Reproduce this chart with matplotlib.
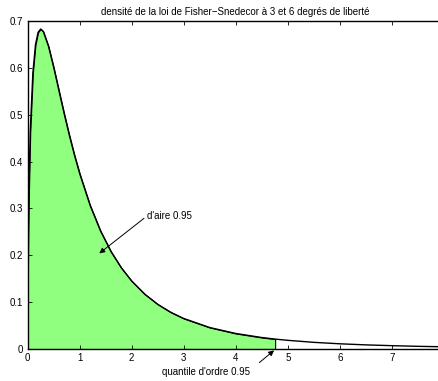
import matplotlib.pyplot as plt
import numpy as np

plt.rcParams['font.family'] = ['Liberation Sans', 'DejaVu Sans']

# density of the Fisher-Snedecor law (3, 6)
x_vals = [0, 0.001, 0.005, 0.01, 0.02, 0.05, 0.1, 0.15, 0.2, 0.25, 0.3, 0.4,
          0.5, 0.6, 0.7, 0.8, 0.9, 1.0, 1.2, 1.4, 1.6, 1.8, 2.0, 2.25, 2.5,
          2.75, 3.0, 3.5, 4.0, 4.5, 4.757, 5.0, 5.5, 6.0, 6.5, 7.0, 7.5, 8.0]
dens = [0, 0.0732, 0.1622, 0.2269, 0.3138, 0.4643, 0.5891, 0.6490, 0.6757,
        0.6828, 0.6776, 0.6461, 0.6011, 0.5519, 0.5030, 0.4566, 0.4135,
        0.3743, 0.3066, 0.2521, 0.2083, 0.1733, 0.1450, 0.1171, 0.0954,
        0.0784, 0.0651, 0.0458, 0.0331, 0.0245, 0.0211, 0.0185, 0.0142,
        0.0111, 0.0088, 0.0071, 0.0057, 0.0047]
quantile = 4.757
x_ticks = [0, 1, 2, 3, 4, 5, 6, 7]
y_ticks = [0, 0.1, 0.2, 0.3, 0.4, 0.5, 0.6, 0.7]

x = np.array(x_vals)
y = np.array(dens)

fig = plt.figure(figsize=(4.39, 3.81), dpi=100)
ax = fig.add_axes([0.063, 0.084, 0.948, 0.861])

# shaded area up to the quantile
inside = x <= quantile
ax.fill_between(x[inside], y[inside], 0, facecolor='#90ff80',
                edgecolor='k', lw=0.8)
ax.plot(x, y, color='k', lw=1.0)

ax.set_xlim(0, 8)
ax.set_ylim(0, 0.7)
ax.set_xticks(x_ticks)
ax.set_yticks(y_ticks)
ax.set_yticklabels(['0', '0.1', '0.2', '0.3', '0.4', '0.5', '0.6', '0.7'])
ax.tick_params(direction='in', length=3, width=0.6, labelsize=7,
               top=True, right=True, pad=3)
for s in ax.spines.values():
    s.set_linewidth(1.0)

ax.set_title('densité de la loi de Fisher\u2212Snedecor à 3 et 6 degrés de liberté',
             fontsize=7, pad=4)

ax.annotate("d'aire 0.95", xy=(1.377, 0.204), xytext=(2.29, 0.284),
            fontsize=7, va='center', ha='left',
            arrowprops=dict(arrowstyle='-|>', color='k', lw=0.7,
                            mutation_scale=8, shrinkA=0, shrinkB=0,
                            relpos=(-0.05, 0.3)))
ax.annotate('', xy=(4.737, -0.003), xytext=(4.454, -0.029),
            annotation_clip=False,
            arrowprops=dict(arrowstyle='-|>', color='k', lw=0.7,
                            mutation_scale=8, shrinkA=0, shrinkB=0))
ax.text(2.59, -0.0484, "quantile d'ordre 0.95", fontsize=7, va='center',
        ha='left', clip_on=False)

fig.savefig('out.png', dpi=100)
